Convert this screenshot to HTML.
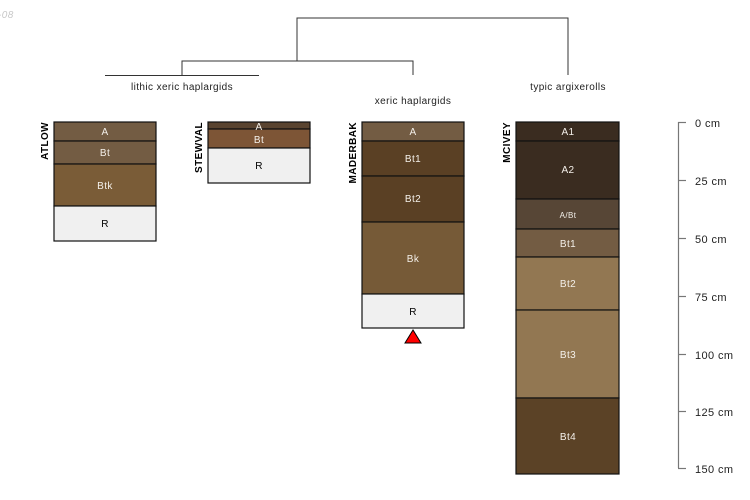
<!DOCTYPE html>
<html><head><meta charset="utf-8"><style>
html,body{margin:0;padding:0;background:#fff;}
svg{display:block;}
text{font-family:"Liberation Sans",sans-serif;letter-spacing:0.4px;}
</style></head><body>
<svg width="750" height="500" viewBox="0 0 750 500" xmlns="http://www.w3.org/2000/svg">
<text x="-2" y="18" font-size="10" font-style="italic" fill="#c8c8c8">-08</text>
<g stroke="#333" stroke-width="1" fill="none">
<polyline points="297,61 297,18 568,18 568,75"/>
<polyline points="182,75 182,61 413,61 413,75"/>
<line x1="105" y1="75.5" x2="259" y2="75.5"/>
</g>
<g font-size="10" fill="#222" text-anchor="middle">
<text x="182" y="90">lithic xeric haplargids</text>
<text x="413" y="104">xeric haplargids</text>
<text x="568" y="90">typic argixerolls</text>
</g>
<g stroke="#111" stroke-width="1.2">
<rect x="54" y="122" width="102" height="19" fill="#735c43"/>
<rect x="54" y="141" width="102" height="23" fill="#735c43"/>
<rect x="54" y="164" width="102" height="42" fill="#7a5c37"/>
<rect x="54" y="206" width="102" height="35" fill="#f0f0f0"/>
<rect x="208" y="122" width="102" height="7" fill="#5a4430"/>
<rect x="208" y="129" width="102" height="19" fill="#7d5536"/>
<rect x="208" y="148" width="102" height="35" fill="#f0f0f0"/>
<rect x="362" y="122" width="102" height="19" fill="#735c43"/>
<rect x="362" y="141" width="102" height="35" fill="#5a4024"/>
<rect x="362" y="176" width="102" height="46" fill="#5a4024"/>
<rect x="362" y="222" width="102" height="72" fill="#765a37"/>
<rect x="362" y="294" width="102" height="34" fill="#f0f0f0"/>
<rect x="516" y="122" width="103" height="19" fill="#3a2c20"/>
<rect x="516" y="141" width="103" height="58" fill="#3a2c20"/>
<rect x="516" y="199" width="103" height="30" fill="#574636"/>
<rect x="516" y="229" width="103" height="28" fill="#735c43"/>
<rect x="516" y="257" width="103" height="53" fill="#927752"/>
<rect x="516" y="310" width="103" height="88" fill="#927752"/>
<rect x="516" y="398" width="103" height="76" fill="#5b4226"/>
</g>
<polygon points="413,330 405,343 421,343" fill="#f00" stroke="#000" stroke-width="1"/>
<g font-size="10" fill="#f4f0ea" text-anchor="middle">
<text x="105" y="135">A</text><text x="105" y="156">Bt</text><text x="105" y="189">Btk</text>
<text x="105" y="227" fill="#000">R</text>
<text x="259" y="130">A</text><text x="259" y="143">Bt</text>
<text x="259" y="169" fill="#000">R</text>
<text x="413" y="135">A</text><text x="413" y="162">Bt1</text><text x="413" y="202">Bt2</text>
<text x="413" y="262">Bk</text><text x="413" y="315" fill="#000">R</text>
<text x="568" y="135">A1</text><text x="568" y="173">A2</text>
<text x="568" y="218" font-size="8">A/Bt</text><text x="568" y="247">Bt1</text>
<text x="568" y="287">Bt2</text><text x="568" y="358">Bt3</text><text x="568" y="440">Bt4</text>
</g>
<g font-size="10" font-weight="bold" fill="#000">
<text transform="translate(48,122) rotate(-90)" text-anchor="end">ATLOW</text>
<text transform="translate(202,122) rotate(-90)" text-anchor="end">STEWVAL</text>
<text transform="translate(356,122) rotate(-90)" text-anchor="end">MADERBAK</text>
<text transform="translate(510,122) rotate(-90)" text-anchor="end">MCIVEY</text>
</g>
<g stroke="#777" stroke-width="1.2">
<line x1="678.5" y1="122" x2="678.5" y2="468"/>
<line x1="678" y1="122.5" x2="686" y2="122.5"/>
<line x1="678" y1="180.5" x2="686" y2="180.5"/>
<line x1="678" y1="238.5" x2="686" y2="238.5"/>
<line x1="678" y1="296.5" x2="686" y2="296.5"/>
<line x1="678" y1="354.5" x2="686" y2="354.5"/>
<line x1="678" y1="411.5" x2="686" y2="411.5"/>
<line x1="678" y1="468.5" x2="686" y2="468.5"/>
</g>
<g font-size="11" fill="#222">
<text x="695" y="127">0 cm</text>
<text x="695" y="185">25 cm</text>
<text x="695" y="243">50 cm</text>
<text x="695" y="301">75 cm</text>
<text x="695" y="359">100 cm</text>
<text x="695" y="416">125 cm</text>
<text x="695" y="473">150 cm</text>
</g>
</svg>
</body></html>
